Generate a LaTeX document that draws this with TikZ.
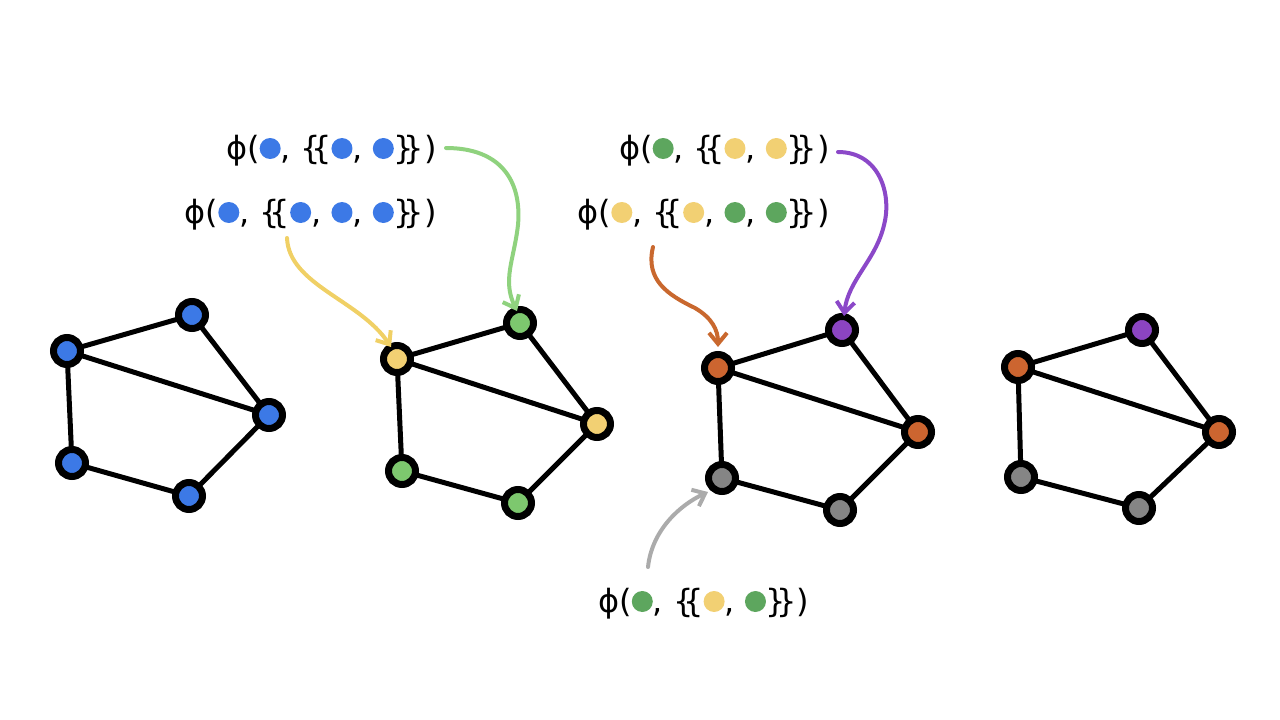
\documentclass[tikz,border=0pt]{standalone}
\usepackage{fontspec}
\setmainfont{DejaVu Sans}
\usetikzlibrary{arrows.meta,backgrounds}
\definecolor{cblue}{HTML}{3C79E6}
\definecolor{cyel}{HTML}{F2D073}
\definecolor{cgrnL}{HTML}{7DC86E}
\definecolor{cgrnD}{HTML}{5DA65E}
\definecolor{corng}{HTML}{CC6530}
\definecolor{cpurp}{HTML}{8B44C2}
\definecolor{cgray}{HTML}{858585}
\definecolor{ayel}{HTML}{F0D065}
\definecolor{agrn}{HTML}{8FD27E}
\definecolor{aorng}{HTML}{C9682E}
\definecolor{apurp}{HTML}{8B48C8}
\definecolor{agray}{HTML}{ABABAB}
\newcommand\dotc[1]{\tikz[baseline={(0pt,-10.5pt)}]\fill[#1] (0pt,0pt) circle[radius=10.5pt];}
\newcommand\mset[1]{\{\kern-0.32em\{#1\}\kern-0.32em\}}
\tikzset{
  vtx/.style={circle, draw=black, line width=7pt, minimum size=27pt, inner sep=0pt},
  lnk/.style={line width=5pt, black},
  lbl/.style={font=\fontsize{32}{38}\selectfont, inner sep=0pt},
  arr/.style={line width=4pt, line cap=round, -{Straight Barb[length=11pt,width=18pt]}}
}
\begin{document}
\begin{tikzpicture}[x=1pt,y=-1pt]
\useasboundingbox (0,0) rectangle (1280,720);
% graph 1
\node[vtx,fill=cblue] (g1a) at (67,351) {};
\node[vtx,fill=cblue] (g1b) at (192,315) {};
\node[vtx,fill=cblue] (g1c) at (269,415) {};
\node[vtx,fill=cblue] (g1d) at (72,463) {};
\node[vtx,fill=cblue] (g1e) at (189,496) {};
% graph 2
\node[vtx,fill=cyel] (g2a) at (397,359) {};
\node[vtx,fill=cgrnL] (g2b) at (520,323) {};
\node[vtx,fill=cyel] (g2c) at (597,424) {};
\node[vtx,fill=cgrnL] (g2d) at (402,471) {};
\node[vtx,fill=cgrnL] (g2e) at (518,503) {};
% graph 3
\node[vtx,fill=corng] (g3a) at (718,368) {};
\node[vtx,fill=cpurp] (g3b) at (842,330) {};
\node[vtx,fill=corng] (g3c) at (918,432) {};
\node[vtx,fill=cgray] (g3d) at (722,478) {};
\node[vtx,fill=cgray] (g3e) at (840,510) {};
% graph 4
\node[vtx,fill=corng] (g4a) at (1018,367) {};
\node[vtx,fill=cpurp] (g4b) at (1142,330) {};
\node[vtx,fill=corng] (g4c) at (1219,432) {};
\node[vtx,fill=cgray] (g4d) at (1021,477) {};
\node[vtx,fill=cgray] (g4e) at (1139,508) {};
\begin{scope}[on background layer]
\foreach \g in {g1,g2,g3,g4}{
  \draw[lnk] (\g a.center) -- (\g b.center) -- (\g c.center) -- (\g a.center) -- (\g d.center) -- (\g e.center) -- (\g c.center);
}
\end{scope}
% labels
\node[lbl,anchor=base east] (l1) at (437,159) {ϕ(\dotc{cblue}, \mset{\dotc{cblue}, \dotc{cblue}})};
\node[lbl,anchor=base east] (l2) at (437,223) {ϕ(\dotc{cblue}, \mset{\dotc{cblue}, \dotc{cblue}, \dotc{cblue}})};
\node[lbl,anchor=base east] (l3) at (830,159) {ϕ(\dotc{cgrnD}, \mset{\dotc{cyel}, \dotc{cyel}})};
\node[lbl,anchor=base east] (l4) at (830,223) {ϕ(\dotc{cyel}, \mset{\dotc{cyel}, \dotc{cgrnD}, \dotc{cgrnD}})};
\node[lbl,anchor=base west] (l5) at (598,612) {ϕ(\dotc{cgrnD}, \mset{\dotc{cyel}, \dotc{cgrnD}})};
% arrows
\coordinate (ys) at (287,238); \coordinate (ye) at (391,347);
\coordinate (gs) at (446,148); \coordinate (ge) at (517,311);
\coordinate (os) at (653,247); \coordinate (oe) at (718,347);
\coordinate (ps) at (838,152); \coordinate (pe) at (844,316);
\coordinate (ks) at (648,567); \coordinate (ke) at (708,492);
\draw[arr,ayel] (ys) .. controls (289,285) and (360,300) .. (ye);
\draw[arr,agrn] (gs) .. controls (500,148) and (522,180) .. (518,225) .. controls (514,260) and (502,280) .. (ge);
\draw[arr,aorng] (os) .. controls (645,280) and (668,295) .. (695,308) .. controls (712,318) and (718,330) .. (oe);
\draw[arr,apurp] (ps) .. controls (880,152) and (892,195) .. (884,225) .. controls (876,260) and (848,280) .. (pe);
\draw[arr,agray] (ks) .. controls (652,530) and (680,505) .. (ke);
\end{tikzpicture}
\end{document}
